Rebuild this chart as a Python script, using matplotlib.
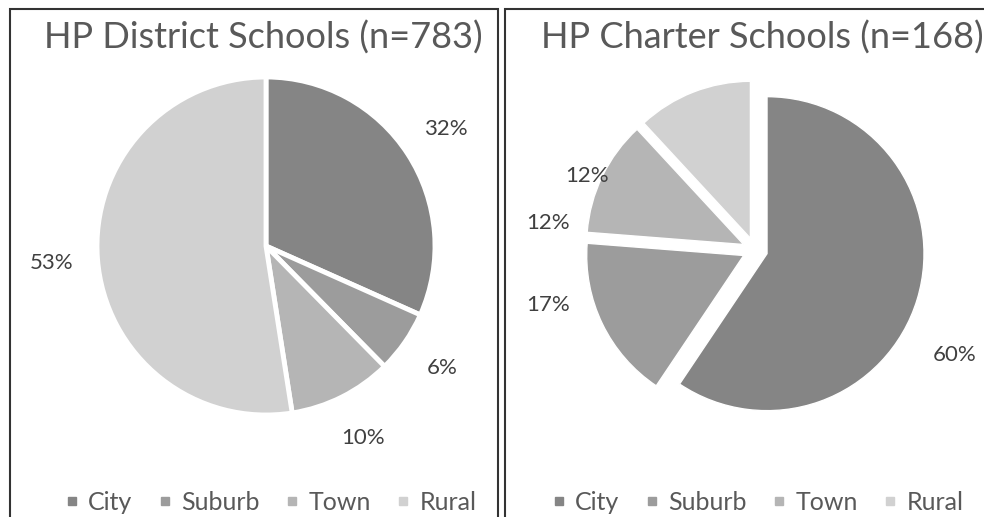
import matplotlib.pyplot as plt
from matplotlib.patches import Rectangle
from matplotlib.lines import Line2D

plt.rcParams['font.family'] = ['Lato', 'DejaVu Sans']

categories = ["City", "Suburb", "Town", "Rural"]
district_pct = [32, 6, 10, 53]
charter_pct = [60, 17, 12, 12]
district_title = "HP District Schools (n=783)"
charter_title = "HP Charter Schools (n=168)"

colors = ["#858585", "#9c9c9c", "#b5b5b5", "#d1d1d1"]
text_color = "#404040"
W, H = 984, 517

fig = plt.figure(figsize=(W / 100, H / 100), dpi=100)


def pie_axes(cx, cy, half=230):
    # cx, cy in pixels from top-left
    ax = fig.add_axes([(cx - half) / W, (H - cy - half) / H, 2 * half / W, 2 * half / H])
    return ax


def fit(ax, r, half=230):
    lim = half / r
    ax.set_xlim(-lim, lim)
    ax.set_ylim(-lim, lim)
    ax.set_aspect('equal')
    ax.axis('off')


# panel frames
fig.patches.append(Rectangle((10 / W, -0.05), 488 / W, (H - 9) / H + 0.05,
                             transform=fig.transFigure, fill=False,
                             edgecolor="#333333", lw=1.5))
fig.patches.append(Rectangle((505 / W, -0.05), 500 / W, (H - 9) / H + 0.05,
                             transform=fig.transFigure, fill=False,
                             edgecolor="#333333", lw=1.5))

# left pie
ax1 = pie_axes(266, 246)
wedges, texts, autotexts = ax1.pie(district_pct, colors=colors, startangle=90, counterclock=False,
                                   autopct='%d%%', pctdistance=1.27,
                                   wedgeprops=dict(edgecolor='white', linewidth=3.5))
fit(ax1, 169)
for i, t in enumerate(autotexts):
    t.set_text(f"{district_pct[i]}%")
    t.set_color(text_color)
    t.set_fontsize(16)

# right pie (exploded)
ax2 = pie_axes(755, 250)
wedges2, texts2, autotexts2 = ax2.pie(charter_pct, colors=colors, startangle=90, counterclock=False,
                                      explode=[0.08] * 4, autopct='%d%%',
                                      wedgeprops=dict(edgecolor='white', linewidth=1))
fit(ax2, 157)
label_pos = [(1.27, -0.67), (-1.32, -0.35), (-1.32, 0.17), (-1.07, 0.47)]
for i, t in enumerate(autotexts2):
    t.set_text(f"{charter_pct[i]}%")
    t.set_position(label_pos[i])
    t.set_color(text_color)
    t.set_fontsize(16)

# titles
fig.text(263 / W, 1 - 38 / H, district_title, ha='center', va='center',
         fontsize=26, color="#595959")
fig.text(762 / W, 1 - 38 / H, charter_title, ha='center', va='center',
         fontsize=26, color="#595959")

# legends
handles = [Line2D([], [], marker='s', ls='none', markersize=6, color=c) for c in colors]
for x0 in (270, 757):
    fig.legend(handles, categories, loc='center', bbox_to_anchor=(x0 / W, 1 - 502 / H),
               ncol=4, frameon=False, fontsize=18, handletextpad=0.3, columnspacing=0.95,
               handlelength=0.7, labelcolor="#595959", borderpad=0)

fig.savefig("out.png", dpi=100)
